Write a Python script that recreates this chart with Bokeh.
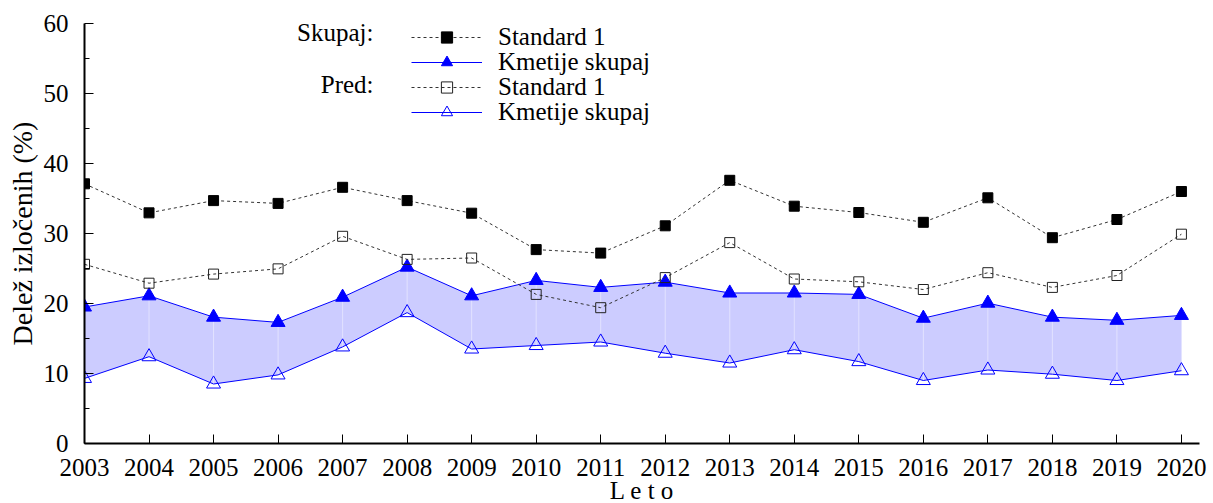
from bokeh.plotting import figure
from bokeh.models import (Range1d, FixedTicker, Legend, LegendItem, Label)
from bokeh.embed import file_html
from bokeh.resources import INLINE

# ---- data ----
years = list(range(2003, 2021))
std_skupaj = [37.1, 32.95, 34.7, 34.3, 36.6, 34.7, 32.9, 27.7, 27.2, 31.1,
              37.6, 33.9, 33.0, 31.6, 35.1, 29.4, 32.0, 36.0]
kmet_skupaj = [19.5, 21.1, 18.05, 17.3, 20.9, 25.2, 21.1, 23.3, 22.3, 23.05,
               21.5, 21.5, 21.3, 17.9, 20.05, 18.05, 17.6, 18.3]
std_pred = [25.6, 22.9, 24.2, 24.95, 29.6, 26.3, 26.5, 21.3, 19.4, 23.7,
            28.7, 23.5, 23.1, 22.0, 24.4, 22.3, 24.0, 29.9]
kmet_pred = [9.3, 12.4, 8.5, 9.8, 13.8, 18.7, 13.5, 14.0, 14.5, 12.9,
             11.5, 13.4, 11.7, 9.0, 10.5, 9.9, 9.0, 10.4]

y_major = [0, 10, 20, 30, 40, 50, 60]
y_minor = [5, 15, 25, 35, 45, 55]

legend_labels = ["Standard 1", "Kmetije skupaj", "Standard 1", "Kmetije skupaj"]
group_labels = ["Skupaj:", "Pred:"]

FONT = "Liberation Serif"

p = figure(width=1213, height=519, output_backend="svg", toolbar_location=None,
           x_range=Range1d(2003, 2020.28), y_range=Range1d(0, 60),
           min_border_left=84, min_border_right=14, min_border_top=23,
           min_border_bottom=76)
p.outline_line_color = None
p.xgrid.grid_line_color = None
p.ygrid.grid_line_color = None

# band between the two Kmetije series
p.varea(x=years, y1=kmet_pred, y2=kmet_skupaj, fill_color="#ccccff")
p.segment(x0=years, y0=kmet_pred, x1=years, y1=kmet_skupaj,
          line_color="#e2e2ff", line_width=1)

# Kmetije skupaj
l_ks = p.line(years, kmet_skupaj, line_color="#0000ff", line_width=1)
m_ks = p.scatter(years, kmet_skupaj, marker="triangle", size=14,
                 fill_color="#0000ff", line_color="#0000ff")
# Kmetije pred
l_kp = p.line(years, kmet_pred, line_color="#0000ff", line_width=1)
m_kp = p.scatter(years, kmet_pred, marker="triangle", size=14,
                 fill_alpha=0, line_color="#0000ff", line_width=1)

# Standard 1 skupaj
l_ss = p.line(years, std_skupaj, line_color="#333333", line_width=1,
              line_dash="3 3")
m_ss = p.scatter(years, std_skupaj, marker="square", size=10,
                 fill_color="black", line_color="black")
# Standard 1 pred
l_sp = p.line(years, std_pred, line_color="#333333", line_width=1,
              line_dash="3 3")
m_sp = p.scatter(years, std_pred, marker="square", size=10,
                 fill_alpha=0, line_color="#222222", line_width=1)

# one single-row legend per entry, so the row pitch matches the reference
row_renderers = [[l_ss, m_ss], [l_ks, m_ks], [l_sp, m_sp], [l_kp, m_kp]]
row_y = [392, 367, 342, 317]
for lab, rends, yy in zip(legend_labels, row_renderers, row_y):
    lg = Legend(items=[LegendItem(label=lab, renderers=rends)],
                location=(327, yy), padding=0, margin=0, spacing=0,
                glyph_width=71, glyph_height=28, label_height=20,
                label_standoff=16, label_text_font=FONT,
                label_text_font_size="25px", label_text_color="black",
                border_line_color=None, background_fill_alpha=0)
    p.add_layout(lg)

for txt, yy in zip(group_labels, (411, 359)):
    p.add_layout(Label(x=289, y=yy, x_units="screen", y_units="screen",
                       text=txt, text_align="right",
                       text_baseline="alphabetic",
                       text_font=FONT, text_font_size="25px",
                       text_color="black"))

# axes
xa = p.xaxis[0]
xa.ticker = FixedTicker(ticks=years)
xa.axis_label = "L e t o"
xa.axis_label_text_font = FONT
xa.axis_label_text_font_size = "25px"
xa.axis_label_text_font_style = "normal"
xa.axis_label_text_color = "black"
xa.axis_label_standoff = -2
xa.major_label_text_font = FONT
xa.major_label_text_font_size = "25px"
xa.major_label_text_color = "black"
xa.major_tick_in = 9
xa.major_tick_out = 0
xa.minor_tick_in = 0
xa.minor_tick_out = 0
xa.major_label_standoff = 15
xa.axis_line_width = 2
xa.axis_line_color = "black"
xa.major_tick_line_color = "black"
xa.major_tick_line_width = 1

ya = p.yaxis[0]
ya.ticker = FixedTicker(ticks=y_major, minor_ticks=y_minor)
ya.axis_label = "Delež izločenih (%)"
ya.axis_label_text_font = FONT
ya.axis_label_text_font_size = "28px"
ya.axis_label_text_font_style = "normal"
ya.axis_label_text_color = "black"
ya.axis_label_standoff = 3
ya.major_label_text_font = FONT
ya.major_label_text_font_size = "25px"
ya.major_label_text_color = "black"
ya.major_tick_in = 9
ya.major_tick_out = 0
ya.minor_tick_in = 5
ya.minor_tick_out = 0
ya.major_label_standoff = 16
ya.axis_line_width = 2
ya.axis_line_color = "black"
ya.major_tick_line_color = "black"
ya.minor_tick_line_color = "black"

open("out.html", "w").write(file_html(p, INLINE))
